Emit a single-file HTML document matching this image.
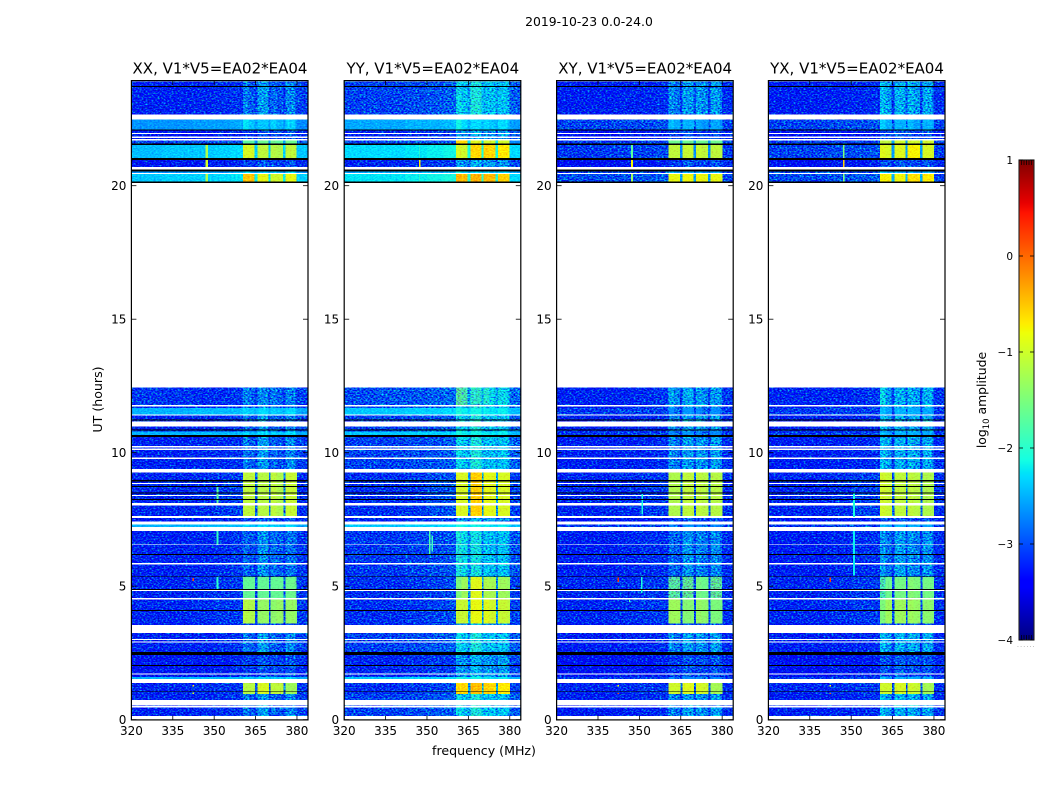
<!DOCTYPE html>
<html>
<head>
<meta charset="utf-8">
<title>2019-10-23 0.0-24.0</title>
<style>
html,body{margin:0;padding:0;background:#fff;width:1050px;height:800px;overflow:hidden}
svg{display:block}
text{font-family:"DejaVu Sans","Liberation Sans",sans-serif;fill:#000}
</style>
</head>
<body>
<svg id="figure" xmlns="http://www.w3.org/2000/svg" width="1050" height="800" viewBox="0 0 1050 800">
<defs>
<filter id="speckle" x="0" y="0" width="1" height="1" color-interpolation-filters="sRGB">
<feTurbulence type="fractalNoise" baseFrequency="0.5 0.72" numOctaves="2" seed="7" result="noise"/>
<feColorMatrix in="noise" type="matrix" values="0 0 0 0 0.5  1 0 0 0 -0.05  0 0.5 0 0 0.24  0 0 0 0 1" result="tinted"/>
<feComposite in="SourceGraphic" in2="tinted" operator="arithmetic" k1="0" k2="1" k3="2" k4="-1" result="mixed"/>
<feComposite in="mixed" in2="SourceAlpha" operator="in"/>
</filter>
<filter id="speckle-soft" x="0" y="0" width="1" height="1" color-interpolation-filters="sRGB">
<feTurbulence type="fractalNoise" baseFrequency="0.5 0.72" numOctaves="2" seed="11" result="noise"/>
<feColorMatrix in="noise" type="matrix" values="0 0 0 0 0.5  1 0 0 0 0  0 0 0 0 0.5  0 0 0 0 1" result="tinted"/>
<feComposite in="SourceGraphic" in2="tinted" operator="arithmetic" k1="0" k2="1" k3="0.6" k4="-0.3" result="mixed"/>
<feComposite in="mixed" in2="SourceAlpha" operator="in"/>
</filter>
</defs>
<text x="589" y="26" font-size="12.4" text-anchor="middle">2019-10-23 0.0-24.0</text>
<text x="484" y="755" font-size="12.6" text-anchor="middle">frequency (MHz)</text>
<text transform="translate(102,399.5) rotate(-90)" font-size="12.6" text-anchor="middle">UT (hours)</text>
<g id="panels"></g>
<g id="colorbar"></g>
<text transform="translate(986,400) rotate(-90)" font-size="12.4" text-anchor="middle">log<tspan font-size="8.5" dy="3">10</tspan><tspan dy="-3"> amplitude</tspan></text>
</svg>
<script>
// ---- chart data -------------------------------------------------------
const polarizations = ['XX', 'YY', 'XY', 'YX'];
const baselineLabel = 'V1*V5=EA02*EA04';
const freqTicks = [320, 335, 350, 365, 380];
const utTicks = [0, 5, 10, 15, 20];
const colorbarTicks = [1, 0, -1, -2, -3, -4];
const freqEdges = [320, 331, 342, 350, 356, 360.5, 362.5, 364.7, 365.7, 369.7, 370.5, 372.5, 374.9, 375.8, 379.2, 379.9, 384];

// time ranges in UT hours: start, end, spectrum kind ('x' = flagged / black rows)
const timeBands = [
[23.91,23.73,'q'],[23.73,23.69,'x'],[23.69,22.67,'q'],
[22.48,22.10,'a'],[22.10,22.06,'x'],[22.06,21.97,'l'],
[21.93,21.84,'l'],[21.79,21.74,'l'],[21.70,21.58,'t'],[21.58,21.53,'x'],
[21.53,21.03,'c'],[21.03,20.96,'x'],[20.96,20.70,'l'],[20.61,20.54,'x'],
[20.54,20.47,'a'],[20.43,20.15,'d'],[20.15,20.10,'x'],
[12.44,11.78,'w'],[11.73,11.67,'q'],[11.67,11.44,'m'],[11.40,11.24,'q'],[11.24,11.21,'x'],[11.21,11.17,'q'],
[10.99,10.87,'q'],[10.87,10.83,'x'],[10.83,10.79,'q'],[10.79,10.66,'m'],[10.66,10.59,'x'],[10.59,10.26,'q'],
[10.19,10.15,'q'],[10.10,9.82,'q'],[9.76,9.39,'q'],
[9.26,8.97,'b'],[8.97,8.93,'x'],[8.93,8.87,'b'],[8.82,8.75,'b'],[8.75,8.71,'x'],[8.71,8.51,'b'],[8.51,8.47,'x'],
[8.47,8.41,'b'],[8.37,8.26,'b'],[8.26,8.22,'x'],[8.22,8.11,'b'],[8.03,7.62,'b'],[7.55,7.43,'l'],
[7.32,7.21,'m'],[7.06,6.57,'u'],[6.54,6.20,'u'],[6.20,6.16,'x'],[6.16,5.86,'u'],[5.82,5.37,'u'],[5.37,5.34,'x'],
[5.34,4.89,'e'],[4.89,4.86,'x'],[4.82,4.55,'e'],[4.51,4.10,'f'],[4.10,4.07,'x'],[4.07,3.61,'f'],[3.61,3.55,'l'],
[3.24,3.03,'q'],[2.99,2.93,'q'],[2.89,2.54,'q'],[2.54,2.42,'x'],[2.42,2.04,'l'],[2.04,2.01,'x'],[2.01,1.73,'l'],
[1.69,1.59,'l'],[1.59,1.53,'m'],[1.37,1.06,'g'],[1.06,1.03,'x'],[1.03,0.96,'g'],[0.96,0.74,'q'],
[0.54,0.51,'q'],[0.46,0.14,'q']
];

// spectrum kinds whose moderate-amplitude channels look smooth rather than speckled
const smoothKinds = ['a', 'c', 'd', 'm', 't'];

// log10 amplitude per frequency segment, for each spectrum kind
const spectraXX = {
q:[-3.12,-3.12,-3.1,-3.05,-3.02,-2.65,-2.8,-3.0,-2.5,-2.95,-2.75,-2.85,-3.0,-2.6,-2.8,-2.95],
w:[-3.0,-3.02,-3.05,-3.05,-3.0,-2.6,-2.75,-3.0,-2.6,-2.95,-2.65,-2.8,-3.0,-2.65,-2.8,-2.95],
l:[-3.2,-3.2,-3.2,-3.15,-3.1,-2.95,-3.0,-3.1,-2.85,-3.05,-2.9,-2.95,-3.05,-2.85,-2.95,-3.05],
a:[-2.65,-2.65,-2.6,-2.6,-2.55,-2.25,-2.4,-2.6,-2.4,-2.6,-2.35,-2.5,-2.6,-2.35,-2.5,-2.7],
t:[-2.9,-2.9,-2.9,-2.9,-2.85,-1.7,-1.7,-2.6,-1.6,-2.6,-1.6,-1.7,-2.6,-1.6,-1.7,-2.8],
c:[-2.45,-2.4,-2.4,-2.35,-2.3,-0.95,-0.95,-2.35,-1.1,-2.35,-1.15,-1.2,-2.35,-1.1,-1.1,-2.4],
d:[-2.4,-2.35,-2.35,-2.3,-2.25,-0.5,-0.5,-2.2,-0.85,-2.2,-1.0,-1.0,-2.2,-0.85,-0.85,-2.35],
m:[-2.5,-2.5,-2.45,-2.45,-2.45,-2.3,-2.4,-2.5,-2.3,-2.5,-2.35,-2.4,-2.5,-2.3,-2.4,-2.55],
b:[-3.1,-3.1,-3.05,-3.0,-2.95,-1.1,-1.1,-2.8,-1.15,-2.7,-1.1,-1.2,-2.7,-1.05,-1.1,-3.05],
u:[-3.12,-3.12,-3.1,-3.05,-3.0,-2.75,-2.85,-3.0,-2.55,-3.0,-2.7,-2.8,-3.0,-2.7,-2.8,-3.0],
e:[-3.1,-3.1,-3.05,-3.0,-3.0,-1.65,-1.65,-2.9,-1.65,-2.9,-1.65,-1.65,-2.9,-1.6,-1.7,-3.0],
f:[-3.1,-3.1,-3.05,-3.0,-3.0,-1.15,-1.2,-2.9,-1.35,-2.9,-1.4,-1.35,-2.9,-1.35,-1.4,-3.0],
g:[-3.1,-3.1,-3.05,-3.0,-3.0,-1.15,-1.15,-2.8,-0.95,-2.8,-1.1,-1.1,-2.8,-1.3,-1.3,-3.0]
};
const spectraYY = {
q:[-2.95,-2.95,-2.9,-2.85,-2.8,-2.2,-2.3,-2.5,-2.1,-2.4,-2.35,-2.3,-2.5,-2.3,-2.4,-2.8],
w:[-2.9,-2.85,-2.85,-2.8,-2.75,-1.75,-1.85,-2.5,-2.0,-2.4,-2.05,-2.2,-2.5,-2.2,-2.3,-2.75],
l:[-3.1,-3.1,-3.05,-3.0,-3.0,-2.5,-2.55,-2.8,-2.4,-2.7,-2.5,-2.55,-2.8,-2.5,-2.6,-2.9],
a:[-2.55,-2.55,-2.5,-2.5,-2.45,-2.15,-2.3,-2.5,-2.3,-2.5,-2.3,-2.4,-2.5,-2.3,-2.4,-2.6],
t:[-2.9,-2.9,-2.85,-2.85,-2.8,-0.6,-0.6,-2.3,-0.9,-2.3,-1.0,-1.0,-2.3,-1.0,-1.0,-2.7],
c:[-2.3,-2.3,-2.25,-2.2,-2.15,-0.95,-1.0,-2.1,-0.6,-2.1,-0.55,-0.6,-2.1,-0.7,-0.7,-2.3],
d:[-2.25,-2.25,-2.2,-2.15,-2.1,-0.4,-0.45,-2.0,-0.4,-2.0,-0.45,-0.45,-2.0,-0.55,-0.55,-2.3],
m:[-2.4,-2.4,-2.35,-2.35,-2.3,-2.1,-2.2,-2.3,-2.15,-2.3,-2.2,-2.25,-2.3,-2.2,-2.3,-2.45],
b:[-3.05,-3.05,-3.0,-2.9,-2.85,-0.95,-0.95,-2.6,-0.55,-2.5,-0.85,-0.9,-2.5,-0.95,-0.95,-2.95],
u:[-3.0,-3.0,-2.95,-2.9,-2.85,-2.1,-2.2,-2.6,-2.15,-2.6,-2.3,-2.35,-2.6,-2.3,-2.4,-2.85],
e:[-3.05,-3.05,-3.0,-2.95,-2.9,-1.5,-1.3,-2.6,-0.9,-2.6,-1.2,-1.25,-2.6,-1.3,-1.35,-2.95],
f:[-3.05,-3.05,-3.0,-2.95,-2.9,-1.05,-1.05,-2.5,-0.85,-2.5,-0.9,-1.0,-2.5,-1.05,-1.1,-2.95],
g:[-3.05,-3.05,-3.0,-2.95,-2.9,-0.6,-0.6,-2.5,-0.45,-2.5,-0.55,-0.6,-2.5,-0.7,-0.7,-2.95]
};
const spectraXY = {
q:[-3.15,-3.15,-3.12,-3.1,-3.05,-2.55,-2.7,-3.0,-2.5,-2.9,-2.5,-2.6,-3.0,-2.5,-2.65,-3.05],
w:[-3.12,-3.12,-3.1,-3.05,-3.0,-2.45,-2.6,-3.0,-2.45,-2.9,-2.5,-2.6,-3.0,-2.5,-2.6,-3.0],
l:[-3.25,-3.25,-3.2,-3.2,-3.15,-3.0,-3.0,-3.1,-2.85,-3.05,-2.9,-2.95,-3.05,-2.85,-2.95,-3.1],
a:[-2.95,-2.95,-2.9,-2.9,-2.85,-2.45,-2.55,-2.85,-2.5,-2.8,-2.55,-2.65,-2.85,-2.55,-2.65,-2.95],
t:[-3.0,-3.0,-3.0,-2.95,-2.95,-1.6,-1.6,-2.6,-1.6,-2.6,-1.6,-1.6,-2.6,-1.6,-1.7,-2.95],
c:[-3.0,-3.0,-2.95,-2.95,-2.9,-1.1,-1.1,-2.7,-1.05,-2.7,-1.05,-1.1,-2.7,-1.1,-1.15,-3.0],
d:[-2.9,-2.9,-2.85,-2.85,-2.8,-0.85,-0.85,-2.6,-0.8,-2.6,-0.8,-0.85,-2.6,-0.85,-0.9,-2.95],
m:[-3.0,-3.0,-2.95,-2.95,-2.95,-2.7,-2.75,-2.95,-2.65,-2.9,-2.7,-2.75,-2.95,-2.7,-2.75,-3.0],
b:[-3.1,-3.1,-3.05,-3.0,-3.0,-1.2,-1.2,-2.85,-1.1,-2.8,-1.1,-1.15,-2.8,-1.15,-1.2,-3.05],
u:[-3.15,-3.15,-3.1,-3.05,-3.05,-2.75,-2.8,-3.0,-2.55,-2.95,-2.6,-2.7,-3.0,-2.6,-2.75,-3.05],
e:[-3.1,-3.1,-3.05,-3.0,-3.0,-1.75,-1.75,-2.95,-1.7,-2.95,-1.55,-1.6,-2.95,-1.7,-1.75,-3.05],
f:[-3.1,-3.1,-3.05,-3.0,-3.0,-1.3,-1.3,-2.9,-1.45,-2.9,-1.35,-1.4,-2.9,-1.5,-1.55,-3.05],
g:[-3.1,-3.1,-3.05,-3.0,-3.0,-1.0,-1.0,-2.8,-0.9,-2.8,-0.95,-1.0,-2.8,-1.25,-1.3,-3.05]
};
const spectraYX = {
q:[-3.15,-3.15,-3.12,-3.1,-3.05,-2.35,-2.5,-3.0,-2.4,-2.9,-2.4,-2.5,-3.0,-2.45,-2.6,-3.05],
w:[-3.1,-3.1,-3.1,-3.05,-3.0,-2.2,-2.5,-3.0,-2.4,-2.9,-2.4,-2.5,-3.0,-2.4,-2.6,-3.0],
l:[-3.25,-3.25,-3.2,-3.2,-3.15,-2.85,-2.9,-3.1,-2.8,-3.05,-2.85,-2.9,-3.05,-2.85,-2.95,-3.1],
a:[-2.95,-2.95,-2.9,-2.9,-2.85,-2.35,-2.55,-2.85,-2.5,-2.8,-2.45,-2.6,-2.85,-2.5,-2.6,-2.95],
t:[-3.0,-3.0,-3.0,-2.95,-2.95,-1.1,-1.1,-2.6,-1.0,-2.6,-1.0,-1.0,-2.6,-1.0,-1.05,-2.95],
c:[-2.95,-2.95,-2.9,-2.9,-2.85,-0.9,-0.95,-2.6,-0.9,-2.6,-0.75,-0.75,-2.6,-0.95,-1.0,-2.95],
d:[-2.9,-2.9,-2.85,-2.85,-2.8,-0.75,-0.75,-2.5,-0.8,-2.5,-0.65,-0.65,-2.5,-0.7,-0.75,-2.95],
m:[-3.0,-3.0,-2.95,-2.95,-2.95,-2.45,-2.6,-2.95,-2.5,-2.9,-2.5,-2.55,-2.95,-2.55,-2.7,-3.0],
b:[-3.1,-3.1,-3.05,-2.95,-2.95,-1.0,-1.05,-2.8,-1.1,-2.75,-1.1,-1.15,-2.75,-1.2,-1.25,-3.05],
u:[-3.15,-3.15,-3.1,-3.05,-3.05,-2.5,-2.7,-3.0,-2.5,-2.9,-2.55,-2.65,-3.0,-2.55,-2.7,-3.05],
e:[-3.1,-3.1,-3.05,-3.0,-3.0,-1.85,-1.6,-2.95,-1.55,-2.95,-1.45,-1.5,-2.95,-1.55,-1.6,-3.05],
f:[-3.1,-3.1,-3.05,-3.0,-3.0,-1.5,-1.3,-2.9,-1.3,-2.9,-1.3,-1.35,-2.9,-1.4,-1.45,-3.05],
g:[-3.1,-3.1,-3.05,-3.0,-3.0,-1.0,-1.0,-2.8,-0.95,-2.8,-1.0,-1.05,-2.8,-1.25,-1.3,-3.05]
};

// interference features: polarization index, freq MHz, width MHz, UT start, UT end, log10 amplitude
const rfiFeatures = [
[0,347.3,0.8,21.53,21.03,-1.2],[0,347.3,0.8,20.96,20.70,-0.95],[0,347.3,0.8,20.43,20.15,-1.2],
[0,351.2,0.8,8.71,8.11,-1.7],[0,351.2,0.8,7.06,6.57,-1.95],[0,351.2,0.8,5.34,4.86,-2.0],
[0,342.4,0.5,5.30,5.20,0.2],[0,342.4,0.5,1.30,1.25,-0.7],[0,342.4,0.5,1.02,0.97,-0.9],
[1,347.4,0.6,20.96,20.70,-0.7],[1,347.4,0.3,21.53,21.03,-1.8],[1,347.4,0.3,20.43,20.15,-1.8],
[1,351.0,0.7,7.06,6.2,-1.8],[1,351.9,0.5,6.9,6.3,-1.9],
[2,347.4,0.7,21.53,21.03,-1.7],[2,347.4,0.7,20.96,20.70,-0.75],[2,347.4,0.7,20.43,20.15,-1.3],
[2,342.4,0.6,5.32,5.16,0.3],[2,342.4,0.6,1.30,1.25,-0.8],[2,342.4,0.6,1.00,0.97,0.2],
[2,350.9,0.6,5.34,4.75,-2.1],[2,346.4,0.5,4.52,4.40,-1.7],[2,351.0,0.6,8.45,7.7,-2.1],
[3,347.3,0.7,21.53,21.03,-1.5],[3,347.3,0.7,20.96,20.70,-0.55],[3,347.3,0.7,20.43,20.15,-1.5],
[3,342.4,0.6,5.32,5.16,0.2],[3,342.4,0.6,1.30,1.25,-0.8],[3,342.4,0.6,1.00,0.97,0.1],
[3,351.0,0.7,8.5,7.6,-2.1],[3,351.0,0.7,7.06,5.4,-2.2]
];

const spectraByPol = [spectraXX, spectraYY, spectraXY, spectraYX];

// ---- layout and axis functions -------------------------------------------
const SVGNS = 'http://www.w3.org/2000/svg';
const panelLefts = [131.4, 344.2, 556.6, 768.4];
const panelWidth = 176.6;
const plotTop = 81;
const plotBottom = 719.7;
const pxPerHour = 26.7;
const pxPerMHz = panelWidth / 64;
function xScale(left, mhz) { return left + (mhz - 320) * pxPerMHz; }
function yScale(ut) { return plotBottom - ut * pxPerHour; }

const jetStops = {
  r: [[0,0],[0.35,0],[0.66,1],[0.89,1],[1,0.5]],
  g: [[0,0],[0.125,0],[0.375,1],[0.64,1],[0.91,0],[1,0]],
  b: [[0,0.5],[0.11,1],[0.34,1],[0.65,0],[1,0]]
};
function channel(stops, t) {
  for (let i = 1; i < stops.length; i++) {
    if (t <= stops[i][0]) {
      const a = stops[i - 1], b = stops[i];
      return a[1] + (b[1] - a[1]) * (t - a[0]) / (b[0] - a[0]);
    }
  }
  return stops[stops.length - 1][1];
}
function jet(value) {
  const t = Math.max(0, Math.min(1, (value + 4) / 5));
  const c = [jetStops.r, jetStops.g, jetStops.b].map(s => Math.round(255 * channel(s, t)));
  return 'rgb(' + c.join(',') + ')';
}
function svgEl(tag, attrs, parent) {
  const el = document.createElementNS(SVGNS, tag);
  for (const k in attrs) el.setAttribute(k, attrs[k]);
  parent.appendChild(el);
  return el;
}

// ---- panels ---------------------------------------------------------------
const panelsRoot = document.getElementById('panels');
polarizations.forEach((pol, p) => {
  const left = panelLefts[p];
  const right = left + panelWidth;
  const spectra = spectraByPol[p];
  const key = pol.toLowerCase();

  const g = svgEl('g', {}, panelsRoot);
  
  

  const heat = svgEl('g', { filter: 'url(#speckle)', 'shape-rendering': 'crispEdges' }, g);
  
  
  const heatBright = svgEl('g', { filter: 'url(#speckle-soft)', 'shape-rendering': 'crispEdges' }, g);
  
  

  timeBands.forEach(band => {
    if (band[2] === 'x') return;
    const y0 = yScale(band[0]);
    const y1 = yScale(band[1]);
    const values = spectra[band[2]];
    const smooth = smoothKinds.includes(band[2]);
    values.forEach((v, i) => {
      const x0 = xScale(left, freqEdges[i]);
      const x1 = xScale(left, freqEdges[i + 1]);
      const target = (v > -1.7 || (smooth && v > -2.72)) ? heatBright : heat;
      const cell = svgEl('rect', { x: x0, y: y0, width: x1 - x0 + (i === values.length - 1 ? 0 : 0.5), height: y1 - y0, fill: jet(v) }, target);
      
      
    });
  });

  const rfiLayer = svgEl('g', { 'shape-rendering': 'crispEdges' }, g);
  
  
  rfiFeatures.filter(f => f[0] === p).forEach(f => {
    const r = svgEl('rect', {
      x: xScale(left, f[1] - f[2] / 2), y: yScale(f[3]),
      width: f[2] * pxPerMHz, height: (f[3] - f[4]) * pxPerHour, fill: jet(f[5])
    }, rfiLayer);
    
    
  });

  const flagged = svgEl('g', { 'shape-rendering': 'crispEdges' }, g);
  
  
  timeBands.filter(b => b[2] === 'x').forEach(band => {
    const r = svgEl('rect', { x: left, y: yScale(band[0]), width: panelWidth, height: (band[0] - band[1]) * pxPerHour, fill: '#000' }, flagged);
    
    
  });

  const frame = svgEl('rect', { x: left, y: plotTop - 0.4, width: panelWidth, height: plotBottom - plotTop + 0.6, fill: 'none', stroke: '#000', 'stroke-width': 1.2 }, g);
  
  

  const title = svgEl('text', { x: (left + right) / 2 + 0.3, y: 73.5, 'font-size': 15, 'text-anchor': 'middle' }, g);
  title.textContent = pol + ', ' + baselineLabel;
  
  

  freqTicks.forEach(f => {
    const x = xScale(left, f);
    svgEl('line', { x1: x, x2: x, y1: plotBottom, y2: plotBottom - 4, stroke: '#000', 'stroke-width': 0.8 }, g);
    svgEl('line', { x1: x, x2: x, y1: plotTop, y2: plotTop + 4, stroke: '#000', 'stroke-width': 0.8 }, g);
    const t = svgEl('text', { x: x, y: 735, 'font-size': 12, 'text-anchor': 'middle' }, g);
    t.textContent = f;
    
    
  });
  utTicks.forEach(u => {
    const y = yScale(u);
    svgEl('line', { x1: left, x2: left + 5, y1: y, y2: y, stroke: '#000', 'stroke-width': 0.8 }, g);
    svgEl('line', { x1: right, x2: right - 5, y1: y, y2: y, stroke: '#000', 'stroke-width': 0.8 }, g);
    const t = svgEl('text', { x: left - 5, y: y + 4.5, 'font-size': 12, 'text-anchor': 'end' }, g);
    t.textContent = u;
    
    
  });
});

// ---- colorbar ----------------------------------------------------------------
const cbarRoot = document.getElementById('colorbar');
const cbarLeft = 1019, cbarRight = 1034, cbarTop = 160, cbarBottom = 640;
function cbarY(v) { return cbarBottom - (v + 4) / 5 * (cbarBottom - cbarTop); }
const cbarFill = svgEl('g', { 'shape-rendering': 'crispEdges' }, cbarRoot);


for (let y = cbarTop; y < cbarBottom; y++) {
  const v = -4 + (cbarBottom - y - 0.5) / (cbarBottom - cbarTop) * 5;
  svgEl('rect', { x: cbarLeft, y: y, width: cbarRight - cbarLeft, height: 1, fill: jet(v) }, cbarFill);
}
const cbarFrame = svgEl('rect', { x: cbarLeft, y: cbarTop, width: cbarRight - cbarLeft, height: cbarBottom - cbarTop, fill: 'none', stroke: '#222', 'stroke-width': 1.1 }, cbarRoot);


colorbarTicks.forEach(v => {
  const y = cbarY(v);
  svgEl('line', { x1: cbarLeft, x2: cbarLeft + 4, y1: y, y2: y, stroke: '#000', 'stroke-width': 0.8 }, cbarRoot);
  svgEl('line', { x1: cbarRight, x2: cbarRight - 4, y1: y, y2: y, stroke: '#000', 'stroke-width': 0.8 }, cbarRoot);
  const t = svgEl('text', { x: 1013, y: y + 4, 'font-size': 10.5, 'text-anchor': 'end' }, cbarRoot);
  t.textContent = v < 0 ? '\u2212' + Math.abs(v) : String(v);
  
  
});
for (let i = 1; i < 6; i++) {
  const x = cbarLeft + i * (cbarRight - cbarLeft) / 6;
  svgEl('line', { x1: x, x2: x, y1: cbarTop, y2: cbarTop + 5, stroke: '#000', 'stroke-width': 0.7 }, cbarRoot);
  svgEl('line', { x1: x, x2: x, y1: cbarBottom, y2: cbarBottom - 5, stroke: '#000', 'stroke-width': 0.7 }, cbarRoot);
}
const offsetDots = svgEl('text', { x: 1017, y: 647, 'font-size': 6, fill: '#888', 'letter-spacing': '1.2' }, cbarRoot);
offsetDots.textContent = '......';
offsetDots.style.fill = '#888';


</script>
</body>
</html>
